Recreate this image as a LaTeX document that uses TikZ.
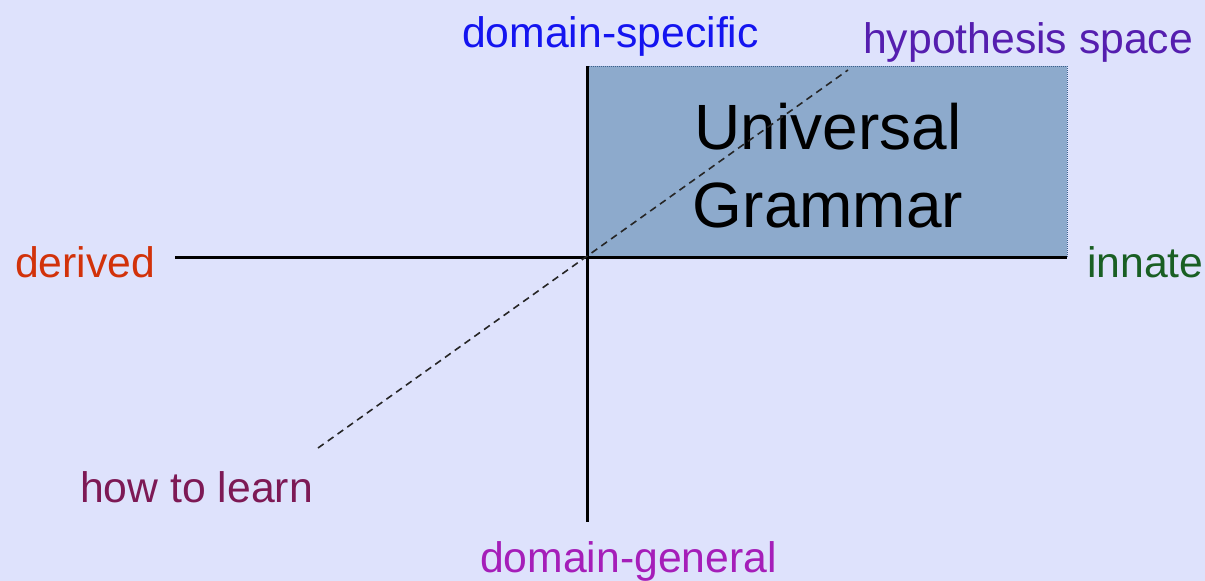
\documentclass[tikz,border=0pt]{standalone}
\usepackage{fontspec}
\setmainfont{Liberation Sans}
\definecolor{bgc}{RGB}{222,226,252}
\definecolor{boxfill}{RGB}{141,170,204}
\definecolor{boxedge}{RGB}{60,95,140}
\definecolor{cspec}{RGB}{20,20,240}
\definecolor{chyp}{RGB}{85,30,175}
\definecolor{cder}{RGB}{210,50,10}
\definecolor{cinn}{RGB}{25,95,35}
\definecolor{chow}{RGB}{125,25,85}
\definecolor{cgen}{RGB}{165,30,185}
\begin{document}
\begin{tikzpicture}[x=1pt,y=-1pt,
  lbl/.style={inner sep=0pt,anchor=base west,font=\fontsize{42.7}{50}\selectfont},
  axis/.style={line width=3pt,black},
  dashline/.style={line width=1.6pt,dash pattern=on 7pt off 5pt,black!85}]
\useasboundingbox[fill=bgc] (0,0) rectangle (1205,581);
\fill[boxfill] (587,66) rectangle (1067,257);
\draw[boxedge,densely dotted,line width=1pt] (587,66) -- (1067,66) -- (1067,257);
\node[font=\fontsize{64}{78}\selectfont,align=center,inner sep=0pt] (ug) at (828,166) {Universal\\Grammar};
\coordinate (origin) at (587,257);
\coordinate (left) at (175,257);
\coordinate (right) at (1067,257);
\coordinate (top) at (587,66);
\coordinate (bottom) at (587,522);
\coordinate (dlo) at (318,448);
\coordinate (dhi) at (848,70);
\draw[axis] (left) -- (right);
\draw[axis] (top) -- (bottom);
\draw[dashline] (dlo) -- (dhi);
\node[lbl,text=cspec] (spec) at (462,47) {domain-specific};
\node[lbl,text=chyp] (hyp) at (863,53) {hypothesis space};
\node[lbl,text=cder] (der) at (15,277) {derived};
\node[lbl,text=cinn] (inn) at (1087,277) {innate};
\node[lbl,text=chow] (how) at (80,502) {how to learn};
\node[lbl,text=cgen] (gen) at (480,572) {domain-general};
\end{tikzpicture}
\end{document}
